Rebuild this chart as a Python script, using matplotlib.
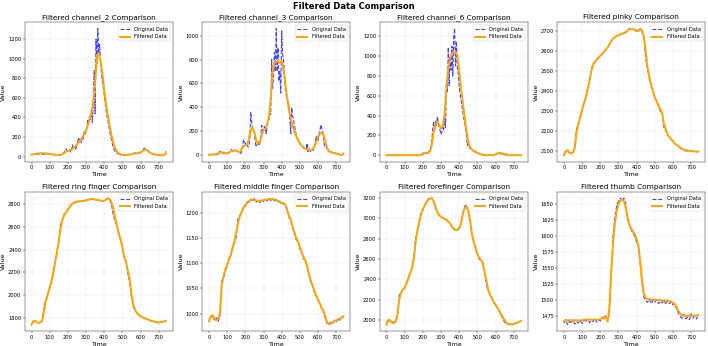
import numpy as np
import matplotlib
matplotlib.use("Agg")
import matplotlib.pyplot as plt

# Time axes
time5 = np.arange(0, 745, 5)    # 0..740, step 5 (noisy channels)
time10 = np.arange(0, 750, 10)  # 0..740, step 10

names = ["channel_2", "channel_3", "channel_6", "pinky",
         "ring finger", "middle finger", "forefinger", "thumb"]

# ---------------- channel_2 ----------------
ch2_orig = [18, 22, 20, 25, 22, 28, 20, 25, 30, 28,
            35, 30, 25, 22, 20, 30, 38, 32, 28, 25,
            22, 25, 28, 22, 20, 18, 20, 16, 15, 18,
            14, 16, 15, 20, 28, 35, 45, 60, 80, 55,
            50, 60, 70, 45, 55, 120, 90, 80, 100, 70,
            130, 160, 195, 150, 170, 140, 210, 180, 260, 230,
            250, 300, 380, 340, 420, 380, 480, 350, 560, 880,
            440, 1200, 950, 1310, 1050, 1150, 980, 850, 760, 700,
            640, 560, 480, 420, 370, 320, 260, 210, 175, 130,
            95, 70, 55, 45, 35, 30, 28, 25, 22, 20,
            18, 20, 17, 18, 20, 18, 22, 20, 25, 22,
            28, 25, 30, 35, 40, 35, 32, 35, 38, 40,
            45, 50, 60, 70, 88, 75, 70, 65, 60, 50,
            40, 35, 30, 25, 22, 25, 20, 22, 18, 20,
            18, 15, 18, 15, 18, 15, 20, 30, 55]
ch2_filt = [22, 24, 27, 30, 33, 35, 34, 32, 32, 30,
            28, 25, 22, 20, 18, 17, 18, 25, 38, 50,
            58, 62, 70, 85, 100, 125, 150, 170, 195, 230,
            270, 320, 380, 450, 560, 760, 1020, 1060, 980, 850,
            690, 540, 420, 320, 220, 140, 85, 50, 32, 22,
            18, 17, 17, 18, 20, 24, 28, 32, 34, 36,
            42, 55, 68, 72, 62, 45, 32, 25, 22, 20,
            18, 16, 15, 18, 35]

# ---------------- channel_3 ----------------
ch3_orig = [5, 5, 4, 5, 6, 5, 4, 5, 6, 5,
            8, 10, 35, 25, 30, 20, 15, 18, 12, 15,
            18, 15, 20, 25, 50, 40, 30, 35, 40, 38,
            42, 35, 30, 25, 20, 15, 30, 80, 130, 110,
            100, 80, 90, 70, 80, 150, 360, 280, 230, 200,
            190, 100, 70, 90, 120, 80, 100, 150, 250, 220,
            200, 240, 230, 180, 250, 290, 300, 350, 340, 800,
            560, 650, 860, 700, 1060, 700, 900, 620, 700, 520,
            1040, 850, 800, 700, 550, 500, 480, 450, 420, 300,
            180, 400, 330, 300, 250, 210, 170, 150, 130, 115,
            100, 90, 80, 70, 60, 55, 55, 50, 100, 30,
            60, 40, 30, 35, 50, 40, 80, 100, 160, 120,
            120, 170, 200, 255, 230, 200, 150, 80, 80, 60,
            60, 40, 30, 30, 25, 30, 20, 22, 20, 18,
            15, 12, 10, 8, 5, 3, 0, 5, 20]
ch3_filt = [5, 5, 6, 8, 10, 15, 22, 25, 22, 18,
            17, 22, 32, 38, 40, 38, 30, 28, 50, 75,
            85, 90, 140, 210, 235, 190, 120, 95, 110, 170,
            210, 220, 260, 320, 480, 700, 775, 780, 790, 770,
            790, 720, 600, 480, 380, 310, 250, 200, 160, 125,
            100, 80, 65, 55, 50, 45, 40, 45, 75, 110,
            150, 180, 190, 170, 110, 60, 35, 25, 20, 18,
            15, 10, 5, 3, 12]

# ---------------- channel_6 ----------------
ch6_orig = [0, 0, 0, 0, 0, 0, 0, 0, 0, 0,
            0, 0, 0, 0, 0, 0, 0, 0, 0, 0,
            0, 0, 0, 0, 0, 0, 0, 0, 0, 0,
            0, 0, 0, 0, 0, 0, 0, 2, 5, 10,
            15, 25, 35, 20, 30, 15, 20, 45, 40, 80,
            150, 280, 330, 250, 340, 300, 390, 330, 280, 250,
            210, 230, 300, 260, 380, 280, 750, 640, 1090, 700,
            1000, 860, 1100, 800, 1200, 1280, 900, 1150, 880, 820,
            700, 620, 560, 500, 440, 380, 330, 280, 200, 100,
            120, 80, 70, 60, 50, 45, 40, 35, 30, 25,
            20, 15, 20, 10, 5, 15, 2, 0, 0, 0,
            0, 0, 0, 0, 0, 0, 0, 0, 0, 5,
            10, 15, 20, 30, 25, 20, 10, 5, 20, 8,
            5, 25, 0, 0, 0, 0, 0, 0, 0, 0,
            0, 0, 0, 0, 0, 0, 0, 0, 0]
ch6_filt = [0, 0, 0, 0, 0, 0, 0, 0, 0, 0,
            0, 0, 0, 0, 0, 0, 0, 0, 0, 5,
            10, 22, 25, 22, 40, 110, 240, 310, 340, 310,
            270, 290, 420, 680, 880, 980, 1030, 1045, 1045, 1000,
            850, 680, 530, 390, 250, 130, 80, 60, 45, 35,
            25, 18, 10, 5, 2, 0, 0, 0, 0, 2,
            8, 18, 25, 22, 12, 8, 5, 2, 0, 0,
            0, 0, 0, 0, 0]

# ---------------- pinky ----------------
pinky_orig = [2085, 2098, 2100, 2092, 2090, 2092, 2135, 2215, 2235, 2270,
              2305, 2345, 2365, 2415, 2445, 2505, 2540, 2545, 2560, 2568,
              2575, 2590, 2595, 2610, 2618, 2638, 2650, 2668, 2670, 2678,
              2680, 2686, 2686, 2690, 2695, 2712, 2714, 2710, 2712, 2706,
              2700, 2705, 2715, 2695, 2675, 2560, 2510, 2465, 2435, 2395,
              2365, 2352, 2325, 2300, 2295, 2220, 2205, 2180, 2172, 2158,
              2148, 2138, 2130, 2124, 2115, 2108, 2104, 2102, 2101, 2100,
              2100, 2100, 2099, 2098, 2099]
pinky_filt = [2080, 2100, 2105, 2095, 2088, 2095, 2120, 2200, 2240, 2275,
              2310, 2340, 2370, 2410, 2450, 2500, 2535, 2548, 2558, 2570,
              2578, 2588, 2598, 2608, 2620, 2635, 2652, 2665, 2672, 2677,
              2682, 2685, 2688, 2692, 2697, 2705, 2712, 2712, 2711, 2708,
              2705, 2702, 2712, 2705, 2670, 2600, 2520, 2470, 2430, 2400,
              2370, 2350, 2330, 2310, 2290, 2240, 2210, 2185, 2170, 2160,
              2150, 2140, 2132, 2125, 2118, 2112, 2108, 2106, 2104, 2102,
              2101, 2100, 2099, 2098, 2098]

# ---------------- ring finger ----------------
ring_orig = [1750, 1770, 1775, 1765, 1760, 1765, 1780, 1920, 1950, 2020,
             2060, 2130, 2190, 2300, 2370, 2480, 2620, 2650, 2710, 2715,
             2750, 2765, 2795, 2800, 2815, 2814, 2820, 2818, 2824, 2822,
             2830, 2830, 2838, 2838, 2840, 2833, 2834, 2828, 2828, 2820,
             2828, 2830, 2848, 2835, 2790, 2700, 2650, 2600, 2545, 2480,
             2430, 2330, 2300, 2190, 2120, 1990, 1900, 1870, 1848, 1830,
             1818, 1808, 1803, 1795, 1790, 1783, 1778, 1773, 1768, 1765,
             1765, 1768, 1770, 1775, 1780]
ring_filt = [1745, 1775, 1780, 1768, 1762, 1768, 1790, 1880, 1960, 2010,
             2070, 2120, 2200, 2290, 2380, 2470, 2580, 2660, 2700, 2720,
             2745, 2770, 2790, 2805, 2812, 2816, 2818, 2820, 2822, 2824,
             2828, 2832, 2836, 2840, 2838, 2835, 2832, 2830, 2826, 2822,
             2825, 2835, 2845, 2840, 2810, 2760, 2680, 2610, 2540, 2490,
             2420, 2340, 2290, 2220, 2150, 2010, 1920, 1875, 1850, 1832,
             1820, 1810, 1805, 1797, 1790, 1785, 1780, 1775, 1770, 1766,
             1766, 1768, 1772, 1776, 1780]

# ---------------- middle finger ----------------
middle_orig = [990, 992, 996, 986, 992, 985, 995, 1065, 1070, 1085,
               1093, 1110, 1114, 1134, 1140, 1152, 1190, 1195, 1198, 1212,
               1212, 1222, 1220, 1227, 1222, 1228, 1221, 1225, 1220, 1226,
               1222, 1228, 1223, 1229, 1224, 1228, 1223, 1227, 1220, 1223,
               1216, 1220, 1214, 1207, 1190, 1188, 1168, 1163, 1146, 1145,
               1128, 1125, 1108, 1107, 1090, 1080, 1062, 1057, 1042, 1038,
               1025, 1022, 1008, 1007, 991, 980, 978, 983, 980, 987,
               984, 990, 987, 994, 992]
middle_filt = [985, 995, 997, 990, 987, 990, 1000, 1055, 1075, 1088,
               1097, 1107, 1117, 1130, 1145, 1160, 1180, 1193, 1202, 1210,
               1215, 1220, 1223, 1225, 1226, 1225, 1224, 1223, 1223, 1224,
               1225, 1226, 1226, 1227, 1227, 1227, 1226, 1225, 1223, 1221,
               1219, 1218, 1216, 1205, 1195, 1185, 1172, 1160, 1150, 1142,
               1132, 1122, 1112, 1105, 1095, 1078, 1066, 1055, 1045, 1035,
               1028, 1020, 1012, 1005, 995, 983, 980, 980, 982, 985,
               987, 988, 990, 992, 995]

# ---------------- forefinger ----------------
fore_orig = [1980, 1995, 1990, 1985, 1980, 1990, 2030, 2250, 2260, 2310,
             2310, 2370, 2400, 2470, 2500, 2620, 2800, 2870, 2950, 3050,
             3080, 3130, 3150, 3190, 3200, 3200, 3160, 3100, 3055, 3035,
             3010, 3008, 2990, 2988, 2965, 2955, 2915, 2900, 2880, 2890,
             2905, 2940, 3050, 3120, 3130, 3060, 2970, 2840, 2780, 2700,
             2655, 2600, 2585, 2570, 2450, 2350, 2290, 2245, 2220, 2175,
             2155, 2120, 2090, 2050, 2020, 1980, 1970, 1960, 1960, 1962,
             1965, 1970, 1978, 1985, 1990]
fore_filt = [1955, 2005, 2000, 1978, 1970, 1985, 2050, 2200, 2270, 2300,
             2320, 2360, 2410, 2460, 2510, 2600, 2760, 2880, 2970, 3040,
             3090, 3125, 3160, 3185, 3195, 3195, 3170, 3110, 3060, 3030,
             3015, 3005, 2995, 2985, 2970, 2950, 2920, 2900, 2885, 2885,
             2900, 2950, 3040, 3100, 3120, 3080, 2980, 2850, 2770, 2710,
             2650, 2615, 2590, 2560, 2470, 2390, 2300, 2250, 2215, 2180,
             2150, 2125, 2095, 2060, 2030, 2000, 1975, 1962, 1958, 1960,
             1962, 1968, 1975, 1982, 1992]

# ---------------- thumb ----------------
thumb_orig = [1465, 1470, 1462, 1468, 1464, 1470, 1463, 1467, 1465, 1469,
              1464, 1470, 1466, 1471, 1465, 1469, 1467, 1472, 1466, 1470,
              1468, 1474, 1470, 1476, 1468, 1480, 1540, 1600, 1630, 1648,
              1655, 1660, 1655, 1660, 1650, 1625, 1620, 1610, 1605, 1600,
              1590, 1585, 1555, 1525, 1505, 1500, 1497, 1502, 1495, 1500,
              1497, 1501, 1495, 1499, 1496, 1501, 1494, 1500, 1495, 1498,
              1493, 1495, 1486, 1480, 1475, 1472, 1478, 1471, 1474, 1470,
              1479, 1472, 1476, 1471, 1478]
thumb_filt = [1468, 1469, 1469, 1469, 1469, 1468, 1469, 1469, 1469, 1469,
              1469, 1470, 1470, 1470, 1470, 1470, 1470, 1470, 1470, 1470,
              1471, 1472, 1474, 1473, 1467, 1490, 1545, 1590, 1620, 1640,
              1650, 1656, 1658, 1655, 1645, 1630, 1618, 1612, 1608, 1603,
              1595, 1585, 1560, 1530, 1510, 1504, 1502, 1502, 1501, 1501,
              1501, 1501, 1501, 1500, 1500, 1500, 1500, 1500, 1499, 1498,
              1496, 1494, 1490, 1483, 1479, 1477, 1476, 1476, 1476, 1476,
              1476, 1476, 1476, 1477, 1477]

series = [
    (time5, ch2_orig, time10, ch2_filt),
    (time5, ch3_orig, time10, ch3_filt),
    (time5, ch6_orig, time10, ch6_filt),
    (time10, pinky_orig, time10, pinky_filt),
    (time10, ring_orig, time10, ring_filt),
    (time10, middle_orig, time10, middle_filt),
    (time10, fore_orig, time10, fore_filt),
    (time10, thumb_orig, time10, thumb_filt),
]

DPI = 35.4
fig, axes = plt.subplots(2, 4, figsize=(708 / DPI, 346 / DPI), dpi=DPI)
for ax, name, (to, yo, tf, yf) in zip(axes.flat, names, series):
    ax.plot(to, yo, linestyle='--', color='blue', alpha=0.75, linewidth=2.2,
            label='Original Data')
    ax.plot(tf, yf, color='orange', linewidth=4, label='Filtered Data')
    ax.set_title(f'Filtered {name} Comparison', fontsize=15)
    ax.set_xlabel('Time', fontsize=13)
    ax.set_ylabel('Value', fontsize=13)
    ax.tick_params(labelsize=10.5)
    ax.legend(loc='upper right', fontsize=10.5)
    ax.grid(True, alpha=0.3)

fig.suptitle('Filtered Data Comparison', fontsize=17, fontweight='bold', y=0.995)
fig.subplots_adjust(left=0.035, right=0.996, bottom=0.043, top=0.936,
                    wspace=0.2, hspace=0.216)
fig.savefig('out.png', dpi=DPI)
